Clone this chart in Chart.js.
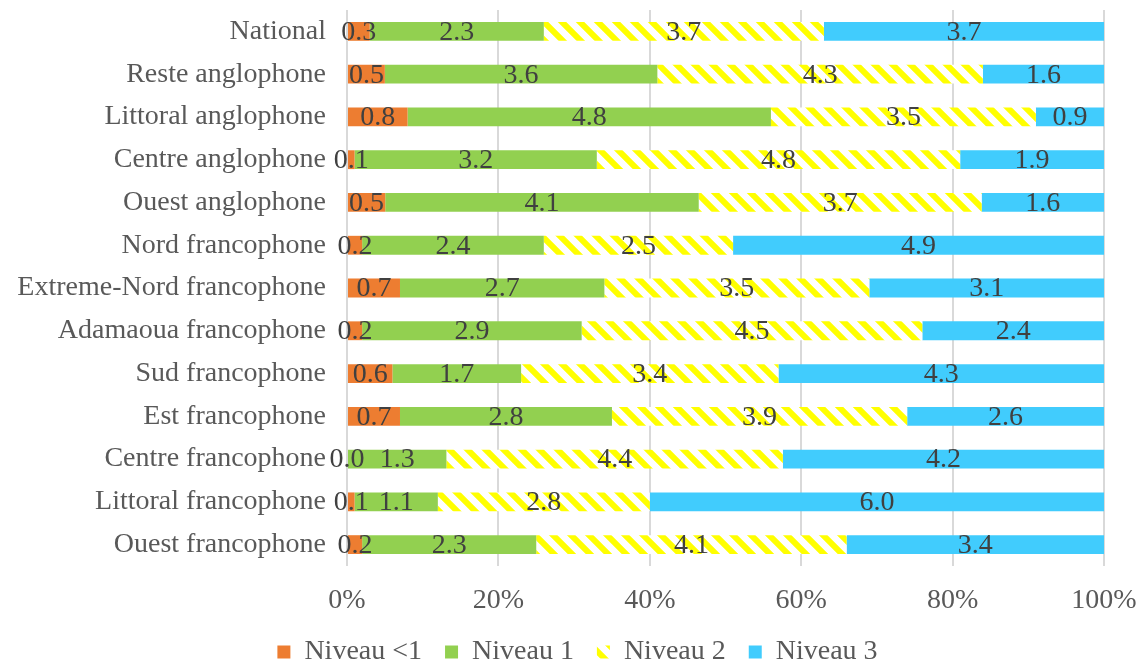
<!DOCTYPE html>
<html>
<head>
<meta charset="utf-8">
<script src="https://cdn.jsdelivr.net/npm/chart.js@4/dist/chart.umd.min.js"></script>
<style>
  html, body { margin: 0; padding: 0; background: #fff; }
  #wrap { width: 1141px; height: 661px; }
</style>
</head>
<body>
<div id="wrap"><canvas id="chart" width="1141" height="661"></canvas></div>
<script>
const regions = [
  "National", "Reste anglophone", "Littoral anglophone", "Centre anglophone",
  "Ouest anglophone", "Nord francophone", "Extreme-Nord francophone",
  "Adamaoua francophone", "Sud francophone", "Est francophone",
  "Centre francophone", "Littoral francophone", "Ouest francophone"
];
const seriesNames = ["Niveau <1", "Niveau 1", "Niveau 2", "Niveau 3"];
const niveauMoins1 = [0.3, 0.5, 0.8, 0.1, 0.5, 0.2, 0.7, 0.2, 0.6, 0.7, 0.0, 0.1, 0.2];
const niveau1 = [2.3, 3.6, 4.8, 3.2, 4.1, 2.4, 2.7, 2.9, 1.7, 2.8, 1.3, 1.1, 2.3];
const niveau2 = [3.7, 4.3, 3.5, 4.8, 3.7, 2.5, 3.5, 4.5, 3.4, 3.9, 4.4, 2.8, 4.1];
const niveau3 = [3.7, 1.6, 0.9, 1.9, 1.6, 4.9, 3.1, 2.4, 4.3, 2.6, 4.2, 6.0, 3.4];
const xTicks = [0, 20, 40, 60, 80, 100];

const FONT = "'Liberation Serif', 'Times New Roman', serif";
const canvas = document.getElementById("chart");
const ctx = canvas.getContext("2d");

// yellow "\" stripes on white for Niveau 2
function stripes() {
  const s = 18;
  const tile = document.createElement("canvas");
  tile.width = s; tile.height = s;
  const g = tile.getContext("2d");
  g.fillStyle = "#ffffff";
  g.fillRect(0, 0, s, s);
  g.strokeStyle = "#ffff00";
  g.lineWidth = 6;
  g.beginPath();
  for (const o of [-s, 0, s]) {
    g.moveTo(o - 3, -3);
    g.lineTo(o + s + 3, s + 3);
  }
  g.stroke();
  return ctx.createPattern(tile, "repeat");
}

const raw = [niveauMoins1, niveau1, niveau2, niveau3];
const colors = ["#ED7D31", "#92D050", stripes(), "#41CCFD"];
// each row is shown as shares of its own total
const totals = regions.map((_, i) => raw.reduce((t, arr) => t + arr[i], 0));

const datasets = raw.map((arr, k) => ({
  label: seriesNames[k],
  data: arr.map((v, i) => v / totals[i] * 100),
  backgroundColor: colors[k],
  borderWidth: 0,
  barPercentage: 0.44,
  categoryPercentage: 1
}));

// value labels centred on each segment
const valueLabels = {
  id: "valueLabels",
  afterDatasetsDraw(chart) {
    const c = chart.ctx;
    c.save();
    c.font = "28px " + FONT;
    c.fillStyle = "#404040";
    c.textAlign = "center";
    c.textBaseline = "middle";
    chart.data.datasets.forEach((ds, k) => {
      chart.getDatasetMeta(k).data.forEach((bar, i) => {
        const p = bar.getProps(["x", "y", "base"], true);
        c.fillText(raw[k][i].toFixed(1), (p.x + p.base) / 2, p.y + 1);
      });
    });
    c.restore();
  }
};

new Chart(ctx, {
  type: "bar",
  data: { labels: regions, datasets: datasets },
  options: {
    indexAxis: "y",
    responsive: false,
    animation: false,
    devicePixelRatio: 1,
    layout: { padding: { top: 10, right: 0, left: 14, bottom: -15 } },
    scales: {
      x: {
        stacked: true,
        min: 0,
        max: 100,
        afterBuildTicks(scale) { scale.ticks = xTicks.map(v => ({ value: v })); },
        afterFit(scale) {
          scale.height = 49;
          scale.paddingLeft = 0;
          scale.paddingRight = 37;
        },
        grid: { color: "#d9d9d9", lineWidth: 2, drawTicks: false },
        border: { display: false },
        ticks: {
          padding: 18,
          color: "#595959",
          font: { family: FONT, size: 28 },
          callback: v => v + "%"
        }
      },
      y: {
        stacked: true,
        afterFit(scale) {
          scale.width = 333;
          scale.paddingTop = 0;
          scale.paddingBottom = 0;
        },
        grid: { display: false, drawTicks: false },
        border: { display: false },
        ticks: {
          padding: 21,
          color: "#595959",
          font: { family: FONT, size: 28 }
        }
      }
    },
    plugins: {
      legend: {
        position: "bottom",
        labels: {
          boxWidth: 13,
          boxHeight: 13,
          padding: 23,
          color: "#595959",
          font: { family: FONT, size: 28 }
        }
      },
      tooltip: { enabled: false }
    }
  },
  plugins: [valueLabels]
});
</script>
</body>
</html>
